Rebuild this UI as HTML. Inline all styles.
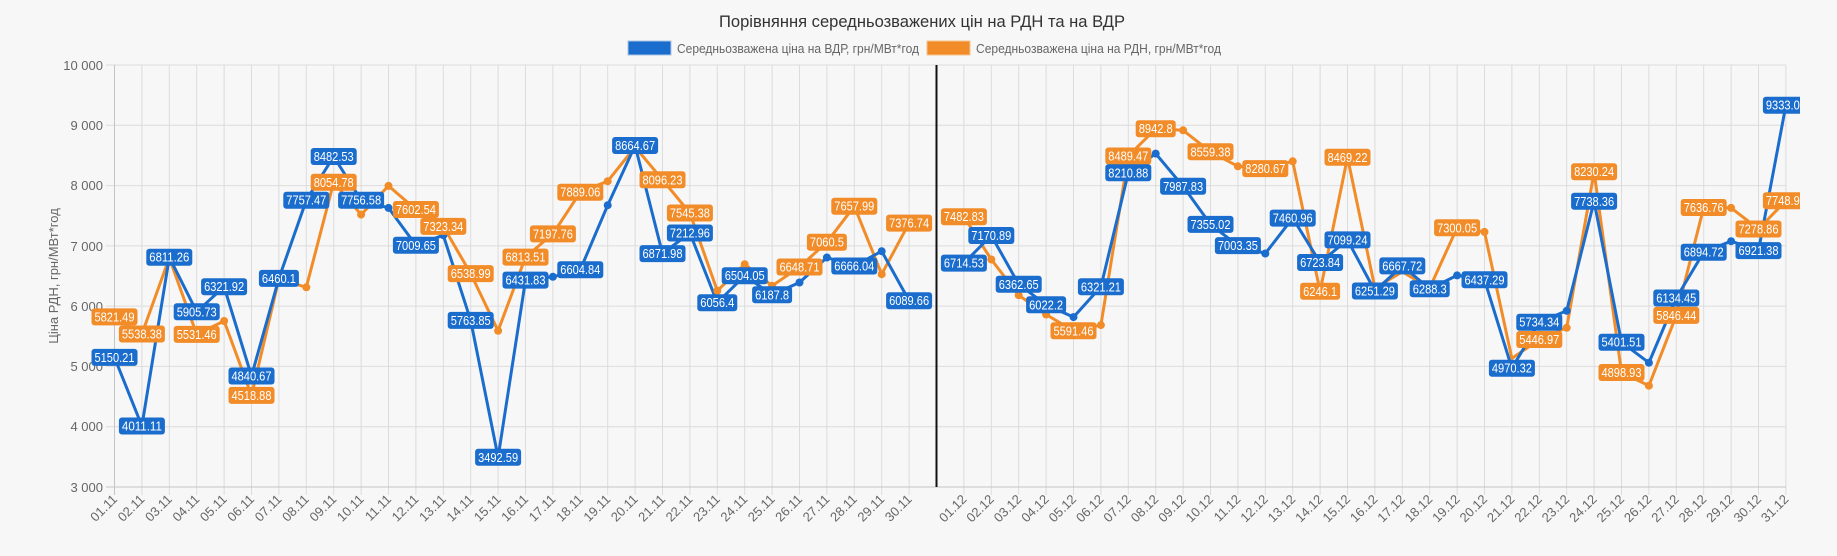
<!DOCTYPE html>
<html><head><meta charset="utf-8"><style>
html,body{margin:0;padding:0;background:#f7f7f7;}
svg{display:block;font-family:"Liberation Sans",sans-serif;}
.g line{stroke:#dcdcdc;stroke-width:1}
.xl text{font-size:13px;fill:#666;text-anchor:end}
.yl text{font-size:13px;fill:#666;text-anchor:end}
.lb text{font-size:13px;fill:#fff;text-anchor:middle}
</style></head><body>
<svg width="1837" height="556" viewBox="0 0 1837 556" xmlns="http://www.w3.org/2000/svg">
<defs><clipPath id="c"><rect x="0" y="0" width="1800" height="556"/></clipPath></defs>
<rect width="1837" height="556" fill="#f7f7f7"/>
<text x="922" y="27" font-size="16.5" fill="#333" text-anchor="middle" textLength="406" lengthAdjust="spacingAndGlyphs">Порівняння середньозважених цін на РДН та на ВДР</text>
<rect x="628" y="41" width="43" height="14" fill="#1a6dcc" stroke="#a9c4e6" stroke-width="1"/>
<text x="677" y="53" font-size="13" fill="#666" textLength="242" lengthAdjust="spacingAndGlyphs">Середньозважена ціна на ВДР, грн/МВт*год</text>
<rect x="927" y="41" width="43" height="14" fill="#f28c28" stroke="#f6c48f" stroke-width="1"/>
<text x="976" y="53" font-size="13" fill="#666" textLength="245" lengthAdjust="spacingAndGlyphs">Середньозважена ціна на РДН, грн/МВт*год</text>

<g class="g">
<line x1="106" x2="1786" y1="65" y2="65"/><line x1="106" x2="1786" y1="125.3" y2="125.3"/><line x1="106" x2="1786" y1="185.6" y2="185.6"/><line x1="106" x2="1786" y1="245.9" y2="245.9"/><line x1="106" x2="1786" y1="306.1" y2="306.1"/><line x1="106" x2="1786" y1="366.4" y2="366.4"/><line x1="106" x2="1786" y1="426.7" y2="426.7"/>
<line x1="141.9" x2="141.9" y1="65" y2="495"/><line x1="169.3" x2="169.3" y1="65" y2="495"/><line x1="196.7" x2="196.7" y1="65" y2="495"/><line x1="224.1" x2="224.1" y1="65" y2="495"/><line x1="251.5" x2="251.5" y1="65" y2="495"/><line x1="278.9" x2="278.9" y1="65" y2="495"/><line x1="306.3" x2="306.3" y1="65" y2="495"/><line x1="333.7" x2="333.7" y1="65" y2="495"/><line x1="361.1" x2="361.1" y1="65" y2="495"/><line x1="388.5" x2="388.5" y1="65" y2="495"/><line x1="415.9" x2="415.9" y1="65" y2="495"/><line x1="443.3" x2="443.3" y1="65" y2="495"/><line x1="470.7" x2="470.7" y1="65" y2="495"/><line x1="498.1" x2="498.1" y1="65" y2="495"/><line x1="525.5" x2="525.5" y1="65" y2="495"/><line x1="552.9" x2="552.9" y1="65" y2="495"/><line x1="580.3" x2="580.3" y1="65" y2="495"/><line x1="607.7" x2="607.7" y1="65" y2="495"/><line x1="635.1" x2="635.1" y1="65" y2="495"/><line x1="662.5" x2="662.5" y1="65" y2="495"/><line x1="689.9" x2="689.9" y1="65" y2="495"/><line x1="717.3" x2="717.3" y1="65" y2="495"/><line x1="744.7" x2="744.7" y1="65" y2="495"/><line x1="772.1" x2="772.1" y1="65" y2="495"/><line x1="799.5" x2="799.5" y1="65" y2="495"/><line x1="826.9" x2="826.9" y1="65" y2="495"/><line x1="854.3" x2="854.3" y1="65" y2="495"/><line x1="881.7" x2="881.7" y1="65" y2="495"/><line x1="909.1" x2="909.1" y1="65" y2="495"/><line x1="963.9" x2="963.9" y1="65" y2="495"/><line x1="991.3" x2="991.3" y1="65" y2="495"/><line x1="1018.7" x2="1018.7" y1="65" y2="495"/><line x1="1046.1" x2="1046.1" y1="65" y2="495"/><line x1="1073.5" x2="1073.5" y1="65" y2="495"/><line x1="1100.9" x2="1100.9" y1="65" y2="495"/><line x1="1128.3" x2="1128.3" y1="65" y2="495"/><line x1="1155.7" x2="1155.7" y1="65" y2="495"/><line x1="1183.1" x2="1183.1" y1="65" y2="495"/><line x1="1210.5" x2="1210.5" y1="65" y2="495"/><line x1="1237.9" x2="1237.9" y1="65" y2="495"/><line x1="1265.3" x2="1265.3" y1="65" y2="495"/><line x1="1292.7" x2="1292.7" y1="65" y2="495"/><line x1="1320.1" x2="1320.1" y1="65" y2="495"/><line x1="1347.5" x2="1347.5" y1="65" y2="495"/><line x1="1374.9" x2="1374.9" y1="65" y2="495"/><line x1="1402.3" x2="1402.3" y1="65" y2="495"/><line x1="1429.7" x2="1429.7" y1="65" y2="495"/><line x1="1457.1" x2="1457.1" y1="65" y2="495"/><line x1="1484.5" x2="1484.5" y1="65" y2="495"/><line x1="1511.9" x2="1511.9" y1="65" y2="495"/><line x1="1539.3" x2="1539.3" y1="65" y2="495"/><line x1="1566.7" x2="1566.7" y1="65" y2="495"/><line x1="1594.1" x2="1594.1" y1="65" y2="495"/><line x1="1621.5" x2="1621.5" y1="65" y2="495"/><line x1="1648.9" x2="1648.9" y1="65" y2="495"/><line x1="1676.3" x2="1676.3" y1="65" y2="495"/><line x1="1703.7" x2="1703.7" y1="65" y2="495"/><line x1="1731.1" x2="1731.1" y1="65" y2="495"/><line x1="1758.5" x2="1758.5" y1="65" y2="495"/><line x1="1785.9" x2="1785.9" y1="65" y2="495"/>
</g>
<line x1="114.5" x2="114.5" y1="65" y2="495" stroke="#c4c4c4"/>
<line x1="106" x2="1786" y1="487" y2="487" stroke="#c4c4c4"/>
<line x1="936.5" x2="936.5" y1="65" y2="487" stroke="#111" stroke-width="2"/>

<g class="yl">
<text x="103" y="70">10 000</text><text x="103" y="130">9 000</text><text x="103" y="190">8 000</text><text x="103" y="251">7 000</text><text x="103" y="311">6 000</text><text x="103" y="371">5 000</text><text x="103" y="431">4 000</text><text x="103" y="492">3 000</text>
</g>
<text transform="translate(58,276) rotate(-90)" font-size="13" fill="#666" text-anchor="middle">Ціна РДН, грн/МВт*год</text>

<g class="xl">
<text transform="translate(118,500) rotate(-45)">01.11</text><text transform="translate(145.4,500) rotate(-45)">02.11</text><text transform="translate(172.8,500) rotate(-45)">03.11</text><text transform="translate(200.2,500) rotate(-45)">04.11</text><text transform="translate(227.6,500) rotate(-45)">05.11</text><text transform="translate(255,500) rotate(-45)">06.11</text><text transform="translate(282.4,500) rotate(-45)">07.11</text><text transform="translate(309.8,500) rotate(-45)">08.11</text><text transform="translate(337.2,500) rotate(-45)">09.11</text><text transform="translate(364.6,500) rotate(-45)">10.11</text><text transform="translate(392,500) rotate(-45)">11.11</text><text transform="translate(419.4,500) rotate(-45)">12.11</text><text transform="translate(446.8,500) rotate(-45)">13.11</text><text transform="translate(474.2,500) rotate(-45)">14.11</text><text transform="translate(501.6,500) rotate(-45)">15.11</text><text transform="translate(529,500) rotate(-45)">16.11</text><text transform="translate(556.4,500) rotate(-45)">17.11</text><text transform="translate(583.8,500) rotate(-45)">18.11</text><text transform="translate(611.2,500) rotate(-45)">19.11</text><text transform="translate(638.6,500) rotate(-45)">20.11</text><text transform="translate(666,500) rotate(-45)">21.11</text><text transform="translate(693.4,500) rotate(-45)">22.11</text><text transform="translate(720.8,500) rotate(-45)">23.11</text><text transform="translate(748.2,500) rotate(-45)">24.11</text><text transform="translate(775.6,500) rotate(-45)">25.11</text><text transform="translate(803,500) rotate(-45)">26.11</text><text transform="translate(830.4,500) rotate(-45)">27.11</text><text transform="translate(857.8,500) rotate(-45)">28.11</text><text transform="translate(885.2,500) rotate(-45)">29.11</text><text transform="translate(912.6,500) rotate(-45)">30.11</text>
<text transform="translate(967.4,500) rotate(-45)">01.12</text><text transform="translate(994.8,500) rotate(-45)">02.12</text><text transform="translate(1022.2,500) rotate(-45)">03.12</text><text transform="translate(1049.6,500) rotate(-45)">04.12</text><text transform="translate(1077,500) rotate(-45)">05.12</text><text transform="translate(1104.4,500) rotate(-45)">06.12</text><text transform="translate(1131.8,500) rotate(-45)">07.12</text><text transform="translate(1159.2,500) rotate(-45)">08.12</text><text transform="translate(1186.6,500) rotate(-45)">09.12</text><text transform="translate(1214,500) rotate(-45)">10.12</text><text transform="translate(1241.4,500) rotate(-45)">11.12</text><text transform="translate(1268.8,500) rotate(-45)">12.12</text><text transform="translate(1296.2,500) rotate(-45)">13.12</text><text transform="translate(1323.6,500) rotate(-45)">14.12</text><text transform="translate(1351,500) rotate(-45)">15.12</text><text transform="translate(1378.4,500) rotate(-45)">16.12</text><text transform="translate(1405.8,500) rotate(-45)">17.12</text><text transform="translate(1433.2,500) rotate(-45)">18.12</text><text transform="translate(1460.6,500) rotate(-45)">19.12</text><text transform="translate(1488,500) rotate(-45)">20.12</text><text transform="translate(1515.4,500) rotate(-45)">21.12</text><text transform="translate(1542.8,500) rotate(-45)">22.12</text><text transform="translate(1570.2,500) rotate(-45)">23.12</text><text transform="translate(1597.6,500) rotate(-45)">24.12</text><text transform="translate(1625,500) rotate(-45)">25.12</text><text transform="translate(1652.4,500) rotate(-45)">26.12</text><text transform="translate(1679.8,500) rotate(-45)">27.12</text><text transform="translate(1707.2,500) rotate(-45)">28.12</text><text transform="translate(1734.6,500) rotate(-45)">29.12</text><text transform="translate(1762,500) rotate(-45)">30.12</text><text transform="translate(1789.4,500) rotate(-45)">31.12</text>
</g>

<g fill="none" stroke-width="3" stroke-linejoin="round">
<polyline stroke="#f28c28" points="114.5,316.9 141.9,334 169.3,257.9 196.7,334.4 224.1,321 251.5,395.4 278.9,279 306.3,287.3 333.7,182.3 361.1,214.6 388.5,185.9 415.9,209.5 443.3,226.4 470.7,273.6 498.1,330.8 525.5,257.1 552.9,233.9 580.3,192.2 607.7,181.2 635.1,147 662.5,179.8 689.9,213 717.3,290.8 744.7,264.2 772.1,285.8 799.5,267 826.9,242.2 854.3,206.2 881.7,274.2 909.1,223.1"/>
<polyline stroke="#f28c28" points="963.9,216.7 991.3,259.5 1018.7,295.2 1046.1,314.5 1073.5,330.8 1100.9,325.1 1128.3,156 1155.7,128.7 1183.1,130.3 1210.5,151.8 1237.9,166.3 1265.3,168.6 1292.7,161.3 1320.1,291.3 1347.5,157.3 1374.9,288 1402.3,271.8 1429.7,288 1457.1,227.8 1484.5,231.9 1511.9,358.4 1539.3,339.5 1566.7,327.8 1594.1,171.7 1621.5,372.5 1648.9,385.7 1676.3,315.4 1703.7,207.5 1731.1,207.9 1758.5,229 1785.9,200.7"/>
<polyline stroke="#1a6dcc" points="114.5,357.4 141.9,426 169.3,257.2 196.7,311.8 224.1,286.7 251.5,376 278.9,278.4 306.3,200.2 333.7,156.5 361.1,200.2 388.5,207.9 415.9,245.3 443.3,235.2 470.7,320.4 498.1,457.3 525.5,280.1 552.9,276.8 580.3,269.7 607.7,205.2 635.1,145.5 662.5,253.6 689.9,233 717.3,302.7 744.7,275.7 772.1,294.8 799.5,282.5 826.9,257.5 854.3,266 881.7,251.2 909.1,300.7"/>
<polyline stroke="#1a6dcc" points="963.9,263.1 991.3,235.5 1018.7,284.3 1046.1,304.8 1073.5,317.1 1100.9,286.8 1128.3,172.8 1155.7,153.6 1183.1,186.3 1210.5,224.4 1237.9,245.6 1265.3,253.5 1292.7,218.1 1320.1,262.5 1347.5,239.9 1374.9,291 1402.3,265.9 1429.7,288.8 1457.1,275.4 1484.5,279.8 1511.9,368.2 1539.3,322.2 1566.7,310.8 1594.1,201.3 1621.5,342.2 1648.9,362.7 1676.3,298 1703.7,252.2 1731.1,241.2 1758.5,250.6 1785.9,105.2"/>
</g>
<g fill="#f28c28">
<circle cx="306.3" cy="287.3" r="4"/><circle cx="224.1" cy="321" r="4"/><circle cx="361.1" cy="214.6" r="4"/><circle cx="388.5" cy="185.9" r="4"/><circle cx="498.1" cy="330.8" r="4"/><circle cx="607.7" cy="181.2" r="4"/><circle cx="717.3" cy="290.8" r="4"/><circle cx="744.7" cy="264.2" r="4"/><circle cx="772.1" cy="285.8" r="4"/><circle cx="881.7" cy="274.2" r="4"/><circle cx="991.3" cy="259.5" r="4"/><circle cx="1018.7" cy="295.2" r="4"/><circle cx="1046.1" cy="314.5" r="4"/><circle cx="1100.9" cy="325.1" r="4"/><circle cx="1183.1" cy="130.3" r="4"/><circle cx="1237.9" cy="166.3" r="4"/><circle cx="1292.7" cy="161.3" r="4"/><circle cx="1484.5" cy="231.9" r="4"/><circle cx="1566.7" cy="327.8" r="4"/><circle cx="1648.9" cy="385.7" r="4"/><circle cx="1731.1" cy="207.9" r="4"/>
</g>
<g fill="#1a6dcc">
<circle cx="388.5" cy="207.9" r="4"/><circle cx="443.3" cy="235.2" r="4"/><circle cx="552.9" cy="276.8" r="4"/><circle cx="607.7" cy="205.2" r="4"/><circle cx="799.5" cy="282.5" r="4"/><circle cx="826.9" cy="257.5" r="4"/><circle cx="881.7" cy="251.2" r="4"/><circle cx="1073.5" cy="317.1" r="4"/><circle cx="1155.7" cy="153.6" r="4"/><circle cx="1265.3" cy="253.5" r="4"/><circle cx="1457.1" cy="275.4" r="4"/><circle cx="1566.7" cy="310.8" r="4"/><circle cx="1648.9" cy="362.7" r="4"/><circle cx="1731.1" cy="241.2" r="4"/>
</g>

<g class="lb" clip-path="url(#c)">
<g fill="#f28c28">
<g transform="translate(114.5,316.9)"><rect x="-23" y="-8.5" width="46" height="17" rx="3"/><text y="4.5" textLength="40" lengthAdjust="spacingAndGlyphs">5821.49</text></g>
<g transform="translate(141.9,334)"><rect x="-23" y="-8.5" width="46" height="17" rx="3"/><text y="4.5" textLength="40" lengthAdjust="spacingAndGlyphs">5538.38</text></g>
<g transform="translate(196.7,334.4)"><rect x="-23" y="-8.5" width="46" height="17" rx="3"/><text y="4.5" textLength="40" lengthAdjust="spacingAndGlyphs">5531.46</text></g>
<g transform="translate(251.5,395.4)"><rect x="-23" y="-8.5" width="46" height="17" rx="3"/><text y="4.5" textLength="40" lengthAdjust="spacingAndGlyphs">4518.88</text></g>
<g transform="translate(333.7,182.3)"><rect x="-23" y="-8.5" width="46" height="17" rx="3"/><text y="4.5" textLength="40" lengthAdjust="spacingAndGlyphs">8054.78</text></g>
<g transform="translate(415.9,209.5)"><rect x="-23" y="-8.5" width="46" height="17" rx="3"/><text y="4.5" textLength="40" lengthAdjust="spacingAndGlyphs">7602.54</text></g>
<g transform="translate(443.3,226.4)"><rect x="-23" y="-8.5" width="46" height="17" rx="3"/><text y="4.5" textLength="40" lengthAdjust="spacingAndGlyphs">7323.34</text></g>
<g transform="translate(470.7,273.6)"><rect x="-23" y="-8.5" width="46" height="17" rx="3"/><text y="4.5" textLength="40" lengthAdjust="spacingAndGlyphs">6538.99</text></g>
<g transform="translate(525.5,257.1)"><rect x="-23" y="-8.5" width="46" height="17" rx="3"/><text y="4.5" textLength="40" lengthAdjust="spacingAndGlyphs">6813.51</text></g>
<g transform="translate(552.9,233.9)"><rect x="-23" y="-8.5" width="46" height="17" rx="3"/><text y="4.5" textLength="40" lengthAdjust="spacingAndGlyphs">7197.76</text></g>
<g transform="translate(580.3,192.2)"><rect x="-23" y="-8.5" width="46" height="17" rx="3"/><text y="4.5" textLength="40" lengthAdjust="spacingAndGlyphs">7889.06</text></g>
<g transform="translate(662.5,179.8)"><rect x="-23" y="-8.5" width="46" height="17" rx="3"/><text y="4.5" textLength="40" lengthAdjust="spacingAndGlyphs">8096.23</text></g>
<g transform="translate(689.9,213)"><rect x="-23" y="-8.5" width="46" height="17" rx="3"/><text y="4.5" textLength="40" lengthAdjust="spacingAndGlyphs">7545.38</text></g>
<g transform="translate(799.5,267)"><rect x="-23" y="-8.5" width="46" height="17" rx="3"/><text y="4.5" textLength="40" lengthAdjust="spacingAndGlyphs">6648.71</text></g>
<g transform="translate(826.9,242.2)"><rect x="-20" y="-8.5" width="40" height="17" rx="3"/><text y="4.5" textLength="34" lengthAdjust="spacingAndGlyphs">7060.5</text></g>
<g transform="translate(854.3,206.2)"><rect x="-23" y="-8.5" width="46" height="17" rx="3"/><text y="4.5" textLength="40" lengthAdjust="spacingAndGlyphs">7657.99</text></g>
<g transform="translate(909.1,223.1)"><rect x="-23" y="-8.5" width="46" height="17" rx="3"/><text y="4.5" textLength="40" lengthAdjust="spacingAndGlyphs">7376.74</text></g>
<g transform="translate(963.9,216.7)"><rect x="-23" y="-8.5" width="46" height="17" rx="3"/><text y="4.5" textLength="40" lengthAdjust="spacingAndGlyphs">7482.83</text></g>
<g transform="translate(1073.5,330.8)"><rect x="-23" y="-8.5" width="46" height="17" rx="3"/><text y="4.5" textLength="40" lengthAdjust="spacingAndGlyphs">5591.46</text></g>
<g transform="translate(1128.3,156)"><rect x="-23" y="-8.5" width="46" height="17" rx="3"/><text y="4.5" textLength="40" lengthAdjust="spacingAndGlyphs">8489.47</text></g>
<g transform="translate(1155.7,128.7)"><rect x="-20" y="-8.5" width="40" height="17" rx="3"/><text y="4.5" textLength="34" lengthAdjust="spacingAndGlyphs">8942.8</text></g>
<g transform="translate(1210.5,151.8)"><rect x="-23" y="-8.5" width="46" height="17" rx="3"/><text y="4.5" textLength="40" lengthAdjust="spacingAndGlyphs">8559.38</text></g>
<g transform="translate(1265.3,168.6)"><rect x="-23" y="-8.5" width="46" height="17" rx="3"/><text y="4.5" textLength="40" lengthAdjust="spacingAndGlyphs">8280.67</text></g>
<g transform="translate(1320.1,291.3)"><rect x="-20" y="-8.5" width="40" height="17" rx="3"/><text y="4.5" textLength="34" lengthAdjust="spacingAndGlyphs">6246.1</text></g>
<g transform="translate(1347.5,157.3)"><rect x="-23" y="-8.5" width="46" height="17" rx="3"/><text y="4.5" textLength="40" lengthAdjust="spacingAndGlyphs">8469.22</text></g>
<g transform="translate(1457.1,227.8)"><rect x="-23" y="-8.5" width="46" height="17" rx="3"/><text y="4.5" textLength="40" lengthAdjust="spacingAndGlyphs">7300.05</text></g>
<g transform="translate(1539.3,339.5)"><rect x="-23" y="-8.5" width="46" height="17" rx="3"/><text y="4.5" textLength="40" lengthAdjust="spacingAndGlyphs">5446.97</text></g>
<g transform="translate(1594.1,171.7)"><rect x="-23" y="-8.5" width="46" height="17" rx="3"/><text y="4.5" textLength="40" lengthAdjust="spacingAndGlyphs">8230.24</text></g>
<g transform="translate(1621.5,372.5)"><rect x="-23" y="-8.5" width="46" height="17" rx="3"/><text y="4.5" textLength="40" lengthAdjust="spacingAndGlyphs">4898.93</text></g>
<g transform="translate(1676.3,315.4)"><rect x="-23" y="-8.5" width="46" height="17" rx="3"/><text y="4.5" textLength="40" lengthAdjust="spacingAndGlyphs">5846.44</text></g>
<g transform="translate(1703.7,207.5)"><rect x="-23" y="-8.5" width="46" height="17" rx="3"/><text y="4.5" textLength="40" lengthAdjust="spacingAndGlyphs">7636.76</text></g>
<g transform="translate(1758.5,229)"><rect x="-23" y="-8.5" width="46" height="17" rx="3"/><text y="4.5" textLength="40" lengthAdjust="spacingAndGlyphs">7278.86</text></g>
<g transform="translate(1785.9,200.7)"><rect x="-23" y="-8.5" width="46" height="17" rx="3"/><text y="4.5" textLength="40" lengthAdjust="spacingAndGlyphs">7748.95</text></g>
</g>
<g fill="#1a6dcc">
<g transform="translate(114.5,357.4)"><rect x="-23" y="-8.5" width="46" height="17" rx="3"/><text y="4.5" textLength="40" lengthAdjust="spacingAndGlyphs">5150.21</text></g>
<g transform="translate(141.9,426)"><rect x="-23" y="-8.5" width="46" height="17" rx="3"/><text y="4.5" textLength="40" lengthAdjust="spacingAndGlyphs">4011.11</text></g>
<g transform="translate(169.3,257.2)"><rect x="-23" y="-8.5" width="46" height="17" rx="3"/><text y="4.5" textLength="40" lengthAdjust="spacingAndGlyphs">6811.26</text></g>
<g transform="translate(196.7,311.8)"><rect x="-23" y="-8.5" width="46" height="17" rx="3"/><text y="4.5" textLength="40" lengthAdjust="spacingAndGlyphs">5905.73</text></g>
<g transform="translate(224.1,286.7)"><rect x="-23" y="-8.5" width="46" height="17" rx="3"/><text y="4.5" textLength="40" lengthAdjust="spacingAndGlyphs">6321.92</text></g>
<g transform="translate(251.5,376)"><rect x="-23" y="-8.5" width="46" height="17" rx="3"/><text y="4.5" textLength="40" lengthAdjust="spacingAndGlyphs">4840.67</text></g>
<g transform="translate(278.9,278.4)"><rect x="-20" y="-8.5" width="40" height="17" rx="3"/><text y="4.5" textLength="34" lengthAdjust="spacingAndGlyphs">6460.1</text></g>
<g transform="translate(306.3,200.2)"><rect x="-23" y="-8.5" width="46" height="17" rx="3"/><text y="4.5" textLength="40" lengthAdjust="spacingAndGlyphs">7757.47</text></g>
<g transform="translate(333.7,156.5)"><rect x="-23" y="-8.5" width="46" height="17" rx="3"/><text y="4.5" textLength="40" lengthAdjust="spacingAndGlyphs">8482.53</text></g>
<g transform="translate(361.1,200.2)"><rect x="-23" y="-8.5" width="46" height="17" rx="3"/><text y="4.5" textLength="40" lengthAdjust="spacingAndGlyphs">7756.58</text></g>
<g transform="translate(415.9,245.3)"><rect x="-23" y="-8.5" width="46" height="17" rx="3"/><text y="4.5" textLength="40" lengthAdjust="spacingAndGlyphs">7009.65</text></g>
<g transform="translate(470.7,320.4)"><rect x="-23" y="-8.5" width="46" height="17" rx="3"/><text y="4.5" textLength="40" lengthAdjust="spacingAndGlyphs">5763.85</text></g>
<g transform="translate(498.1,457.3)"><rect x="-23" y="-8.5" width="46" height="17" rx="3"/><text y="4.5" textLength="40" lengthAdjust="spacingAndGlyphs">3492.59</text></g>
<g transform="translate(525.5,280.1)"><rect x="-23" y="-8.5" width="46" height="17" rx="3"/><text y="4.5" textLength="40" lengthAdjust="spacingAndGlyphs">6431.83</text></g>
<g transform="translate(580.3,269.7)"><rect x="-23" y="-8.5" width="46" height="17" rx="3"/><text y="4.5" textLength="40" lengthAdjust="spacingAndGlyphs">6604.84</text></g>
<g transform="translate(635.1,145.5)"><rect x="-23" y="-8.5" width="46" height="17" rx="3"/><text y="4.5" textLength="40" lengthAdjust="spacingAndGlyphs">8664.67</text></g>
<g transform="translate(662.5,253.6)"><rect x="-23" y="-8.5" width="46" height="17" rx="3"/><text y="4.5" textLength="40" lengthAdjust="spacingAndGlyphs">6871.98</text></g>
<g transform="translate(689.9,233)"><rect x="-23" y="-8.5" width="46" height="17" rx="3"/><text y="4.5" textLength="40" lengthAdjust="spacingAndGlyphs">7212.96</text></g>
<g transform="translate(717.3,302.7)"><rect x="-20" y="-8.5" width="40" height="17" rx="3"/><text y="4.5" textLength="34" lengthAdjust="spacingAndGlyphs">6056.4</text></g>
<g transform="translate(744.7,275.7)"><rect x="-23" y="-8.5" width="46" height="17" rx="3"/><text y="4.5" textLength="40" lengthAdjust="spacingAndGlyphs">6504.05</text></g>
<g transform="translate(772.1,294.8)"><rect x="-20" y="-8.5" width="40" height="17" rx="3"/><text y="4.5" textLength="34" lengthAdjust="spacingAndGlyphs">6187.8</text></g>
<g transform="translate(854.3,266)"><rect x="-23" y="-8.5" width="46" height="17" rx="3"/><text y="4.5" textLength="40" lengthAdjust="spacingAndGlyphs">6666.04</text></g>
<g transform="translate(909.1,300.7)"><rect x="-23" y="-8.5" width="46" height="17" rx="3"/><text y="4.5" textLength="40" lengthAdjust="spacingAndGlyphs">6089.66</text></g>
<g transform="translate(963.9,263.1)"><rect x="-23" y="-8.5" width="46" height="17" rx="3"/><text y="4.5" textLength="40" lengthAdjust="spacingAndGlyphs">6714.53</text></g>
<g transform="translate(991.3,235.5)"><rect x="-23" y="-8.5" width="46" height="17" rx="3"/><text y="4.5" textLength="40" lengthAdjust="spacingAndGlyphs">7170.89</text></g>
<g transform="translate(1018.7,284.3)"><rect x="-23" y="-8.5" width="46" height="17" rx="3"/><text y="4.5" textLength="40" lengthAdjust="spacingAndGlyphs">6362.65</text></g>
<g transform="translate(1046.1,304.8)"><rect x="-20" y="-8.5" width="40" height="17" rx="3"/><text y="4.5" textLength="34" lengthAdjust="spacingAndGlyphs">6022.2</text></g>
<g transform="translate(1100.9,286.8)"><rect x="-23" y="-8.5" width="46" height="17" rx="3"/><text y="4.5" textLength="40" lengthAdjust="spacingAndGlyphs">6321.21</text></g>
<g transform="translate(1128.3,172.8)"><rect x="-23" y="-8.5" width="46" height="17" rx="3"/><text y="4.5" textLength="40" lengthAdjust="spacingAndGlyphs">8210.88</text></g>
<g transform="translate(1183.1,186.3)"><rect x="-23" y="-8.5" width="46" height="17" rx="3"/><text y="4.5" textLength="40" lengthAdjust="spacingAndGlyphs">7987.83</text></g>
<g transform="translate(1210.5,224.4)"><rect x="-23" y="-8.5" width="46" height="17" rx="3"/><text y="4.5" textLength="40" lengthAdjust="spacingAndGlyphs">7355.02</text></g>
<g transform="translate(1237.9,245.6)"><rect x="-23" y="-8.5" width="46" height="17" rx="3"/><text y="4.5" textLength="40" lengthAdjust="spacingAndGlyphs">7003.35</text></g>
<g transform="translate(1292.7,218.1)"><rect x="-23" y="-8.5" width="46" height="17" rx="3"/><text y="4.5" textLength="40" lengthAdjust="spacingAndGlyphs">7460.96</text></g>
<g transform="translate(1320.1,262.5)"><rect x="-23" y="-8.5" width="46" height="17" rx="3"/><text y="4.5" textLength="40" lengthAdjust="spacingAndGlyphs">6723.84</text></g>
<g transform="translate(1347.5,239.9)"><rect x="-23" y="-8.5" width="46" height="17" rx="3"/><text y="4.5" textLength="40" lengthAdjust="spacingAndGlyphs">7099.24</text></g>
<g transform="translate(1374.9,291)"><rect x="-23" y="-8.5" width="46" height="17" rx="3"/><text y="4.5" textLength="40" lengthAdjust="spacingAndGlyphs">6251.29</text></g>
<g transform="translate(1402.3,265.9)"><rect x="-23" y="-8.5" width="46" height="17" rx="3"/><text y="4.5" textLength="40" lengthAdjust="spacingAndGlyphs">6667.72</text></g>
<g transform="translate(1429.7,288.8)"><rect x="-20" y="-8.5" width="40" height="17" rx="3"/><text y="4.5" textLength="34" lengthAdjust="spacingAndGlyphs">6288.3</text></g>
<g transform="translate(1484.5,279.8)"><rect x="-23" y="-8.5" width="46" height="17" rx="3"/><text y="4.5" textLength="40" lengthAdjust="spacingAndGlyphs">6437.29</text></g>
<g transform="translate(1511.9,368.2)"><rect x="-23" y="-8.5" width="46" height="17" rx="3"/><text y="4.5" textLength="40" lengthAdjust="spacingAndGlyphs">4970.32</text></g>
<g transform="translate(1539.3,322.2)"><rect x="-23" y="-8.5" width="46" height="17" rx="3"/><text y="4.5" textLength="40" lengthAdjust="spacingAndGlyphs">5734.34</text></g>
<g transform="translate(1594.1,201.3)"><rect x="-23" y="-8.5" width="46" height="17" rx="3"/><text y="4.5" textLength="40" lengthAdjust="spacingAndGlyphs">7738.36</text></g>
<g transform="translate(1621.5,342.2)"><rect x="-23" y="-8.5" width="46" height="17" rx="3"/><text y="4.5" textLength="40" lengthAdjust="spacingAndGlyphs">5401.51</text></g>
<g transform="translate(1676.3,298)"><rect x="-23" y="-8.5" width="46" height="17" rx="3"/><text y="4.5" textLength="40" lengthAdjust="spacingAndGlyphs">6134.45</text></g>
<g transform="translate(1703.7,252.2)"><rect x="-23" y="-8.5" width="46" height="17" rx="3"/><text y="4.5" textLength="40" lengthAdjust="spacingAndGlyphs">6894.72</text></g>
<g transform="translate(1758.5,250.6)"><rect x="-23" y="-8.5" width="46" height="17" rx="3"/><text y="4.5" textLength="40" lengthAdjust="spacingAndGlyphs">6921.38</text></g>
<g transform="translate(1785.9,105.2)"><rect x="-23" y="-8.5" width="46" height="17" rx="3"/><text y="4.5" textLength="40" lengthAdjust="spacingAndGlyphs">9333.04</text></g>
</g>
</g>
</svg>
</body></html>
